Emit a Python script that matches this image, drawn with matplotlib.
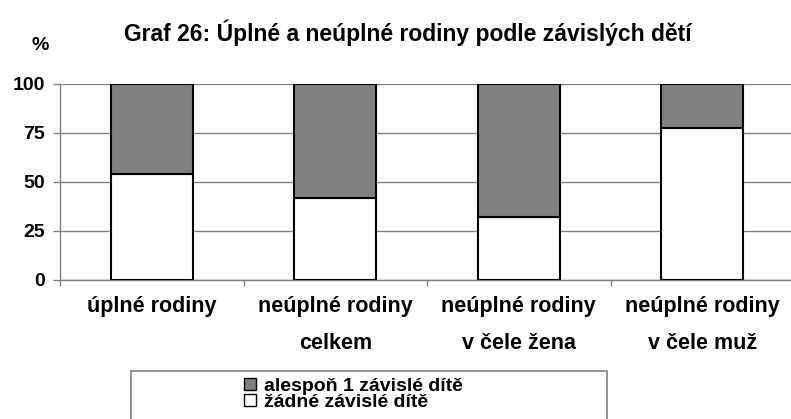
import numpy as np
import matplotlib.pyplot as plt
from matplotlib.patches import Patch, Rectangle

plt.rcParams.update({
    "font.family": ["Liberation Sans", "DejaVu Sans"],
    "font.weight": "bold",
    "font.size": 15,
})

categories = [
    "úplné rodiny",
    "neúplné rodiny\ncelkem",
    "neúplné rodiny\nv čele žena",
    "neúplné rodiny\nv čele muž",
]
no_child = [54.0, 42.0, 32.0, 77.7]
at_least_one = [46.0, 58.0, 68.0, 22.3]
series_names = ["alespoň 1 závislé dítě", "žádné závislé dítě"]
yticks = [0, 25, 50, 75, 100]

GRAY = "#808080"

fig = plt.figure(figsize=(7.91, 4.19), dpi=100)
ax = fig.add_axes([60 / 791, 139.3 / 419, 734 / 791, 195.7 / 419])

x = np.arange(len(categories))
ax.bar(x, no_child, width=0.447, color="white", edgecolor="black", linewidth=1.5, zorder=3)
ax.bar(x, at_least_one, width=0.447, bottom=no_child, color=GRAY,
       edgecolor="black", linewidth=1.5, zorder=3)

ax.set_xlim(-0.5, 3.5)
ax.set_ylim(0, 100)
ax.set_yticks(yticks)
ax.set_yticklabels([str(v) for v in yticks])
ax.grid(axis="y", color=GRAY, linewidth=1, zorder=0)

for side in ["top", "right"]:
    ax.spines[side].set_visible(False)
for side in ["bottom", "left"]:
    ax.spines[side].set_color(GRAY)
    ax.spines[side].set_linewidth(1)

ax.tick_params(axis="y", length=5, width=1, color=GRAY, pad=6, labelsize=14)
ax.set_xticks(x)
ax.set_xticklabels(categories, linespacing=1.95, fontsize=15.5)
ax.tick_params(axis="x", which="major", length=0, pad=12)
ax.set_xticks(np.arange(-0.5, 3.6, 1.0), minor=True)
ax.tick_params(axis="x", which="minor", length=4.5, width=1, color=GRAY)

fig.text(408 / 791, 1 - 33 / 419, "Graf 26: Úplné a neúplné rodiny podle závislých dětí",
         ha="center", va="center", fontsize=16.5, fontweight="bold")
fig.text(40 / 791, 1 - 45 / 419, "%", ha="center", va="center", fontsize=14, fontweight="bold")

# legend box
fig.add_artist(Rectangle((131 / 791, -0.05), 476 / 791, (419 - 371) / 419 + 0.05,
                         transform=fig.transFigure, facecolor="white",
                         edgecolor=GRAY, linewidth=1.2))
handles = [
    Patch(facecolor=GRAY, edgecolor="black", linewidth=1),
    Patch(facecolor="white", edgecolor="black", linewidth=1),
]
fig.legend(handles, series_names, loc="upper left",
           bbox_to_anchor=(244 / 791, 1 - 378 / 419), frameon=False,
           fontsize=14, handlelength=0.6, handleheight=0.6, handletextpad=0.45,
           labelspacing=-0.05, borderpad=0, borderaxespad=0)

fig.savefig("out.png", dpi=100)
